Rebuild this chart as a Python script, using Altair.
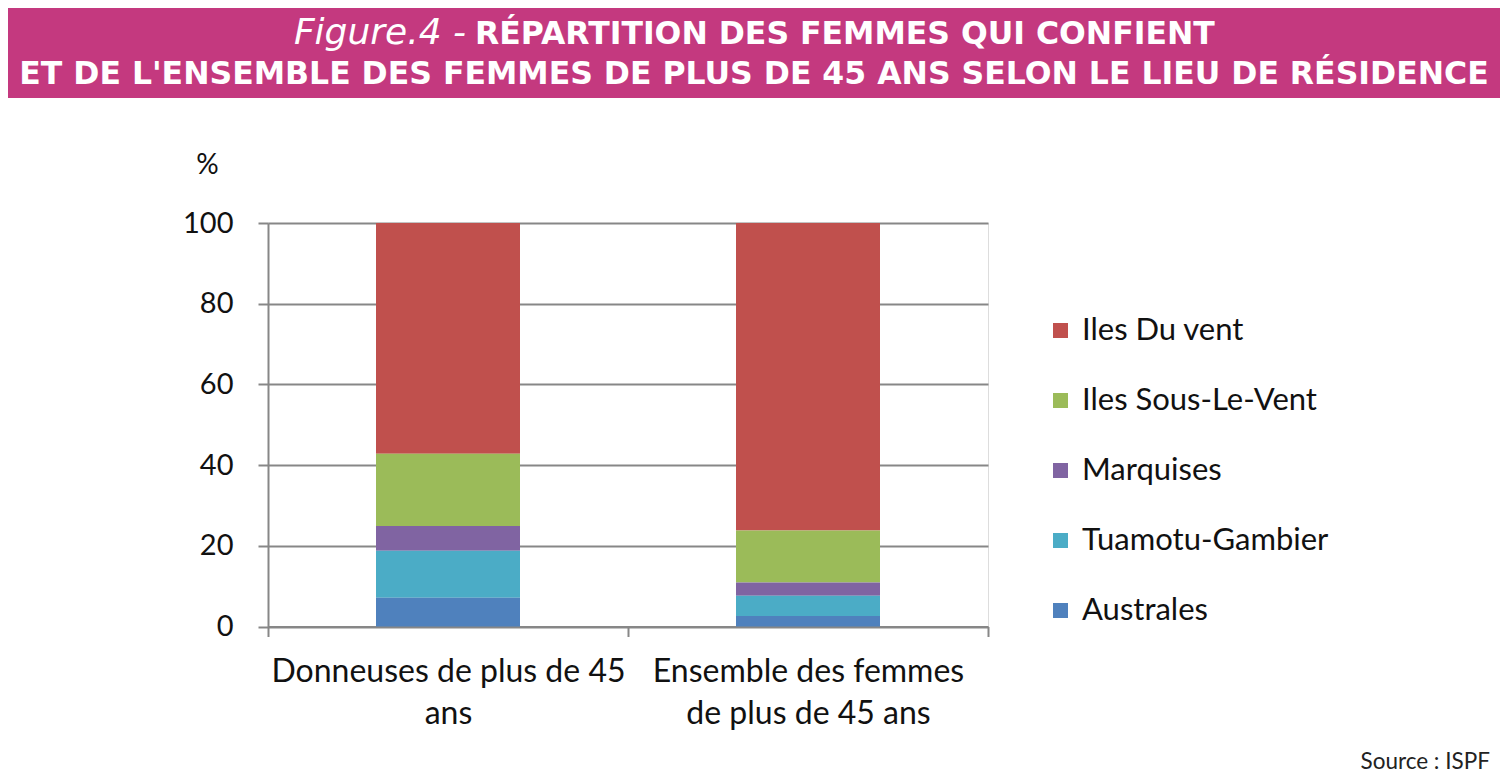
import altair as alt
import pandas as pd

categories = ["Donneuses de plus de 45 ans", "Ensemble des femmes de plus de 45 ans"]
category_lines = {
    "Donneuses de plus de 45 ans": ["Donneuses de plus de 45", "ans"],
    "Ensemble des femmes de plus de 45 ans": ["Ensemble des femmes", "de plus de 45 ans"],
}
regions = ["Iles Du vent", "Iles Sous-Le-Vent", "Marquises", "Tuamotu-Gambier", "Australes"]
colors = ["#C0504D", "#9BBB59", "#8064A2", "#4BACC6", "#4F81BD"]
values_donneuses = [57.2, 17.9, 6.1, 11.7, 7.1]
values_ensemble = [76.2, 12.9, 3.3, 5.0, 2.6]
y_ticks = [0, 20, 40, 60, 80, 100]

title_italic = "Figure.4 -"
title_line1 = "RÉPARTITION DES FEMMES QUI CONFIENT"
title_line2 = "ET DE L'ENSEMBLE DES FEMMES DE PLUS DE 45 ANS SELON LE LIEU DE RÉSIDENCE"
source_text = "Source : ISPF"

rows = []
for cat, vals in zip(categories, [values_donneuses, values_ensemble]):
    for i, (r, v) in enumerate(zip(regions, vals)):
        rows.append({"cat": cat, "region": r, "value": v, "stack": len(regions) - i})
df = pd.DataFrame(rows)

label_expr = " : ".join(
    [f"datum.value == '{k}' ? {v!r}" for k, v in category_lines.items()]
) + " : datum.value"

GRAY = "#878787"
FONT = "Lato"
TXT = "#111111"

W, H = 720, 403.5
PL, PT = 260, 215

bars = alt.Chart(df).mark_bar(size=144).encode(
    x=alt.X("cat:N", sort=categories, title=None,
            scale=alt.Scale(paddingInner=0, paddingOuter=0),
            axis=alt.Axis(labelAngle=0, labelExpr=label_expr, labelFont=FONT,
                          labelFontSize=32, labelColor=TXT, labelLineHeight=42,
                          labelPadding=20, labelLimit=0, tickBand="extent",
                          tickSize=10, tickColor=GRAY, tickWidth=2,
                          domainColor=GRAY, domainWidth=2, grid=False)),
    y=alt.Y("value:Q", stack="zero", scale=alt.Scale(domain=[0, 100], nice=False),
            axis=alt.Axis(values=y_ticks, title="%", titleAngle=0, titleX=-61,
                          titleY=-58, titleFont=FONT, titleFontSize=28,
                          titleFontWeight="normal", titleColor=TXT,
                          titleAlign="center", titleBaseline="middle",
                          labelFont=FONT, labelFontSize=29, labelColor=TXT,
                          labelPadding=25, labelLimit=0, tickSize=10,
                          tickColor=GRAY, tickWidth=2, domainColor=GRAY,
                          domainWidth=2, grid=True, gridColor=GRAY, gridWidth=2)),
    color=alt.Color("region:N", sort=regions,
                    scale=alt.Scale(domain=regions, range=colors),
                    legend=alt.Legend(title=None, orient="none", legendX=777,
                                      legendY=92, symbolType="square",
                                      symbolSize=225, symbolStrokeWidth=0,
                                      labelFont=FONT, labelFontSize=31,
                                      labelColor=TXT, labelOffset=6,
                                      labelLimit=0, rowPadding=38)),
    order=alt.Order("stack:Q", sort="ascending"),
)

banner = alt.Chart(pd.DataFrame({"a": [0]})).mark_rect(color="#C4397F").encode(
    x=alt.value(-PL), x2=alt.value(1492 - PL),
    y=alt.value(-PT), y2=alt.value(90 - PT),
)

t_italic = alt.Chart(pd.DataFrame({"t": [title_italic]})).mark_text(
    font="DejaVu Sans", fontSize=36, fontStyle="italic", color="white",
    align="right", baseline="alphabetic").encode(
    text="t:N", x=alt.value(466 - 8 - PL), y=alt.value(44 - 8 - PT))

t_line1 = alt.Chart(pd.DataFrame({"t": [title_line1]})).mark_text(
    font="DejaVu Sans", fontSize=31.5, fontWeight="bold", color="white",
    align="left", baseline="alphabetic").encode(
    text="t:N", x=alt.value(475 - 8 - PL), y=alt.value(44 - 8 - PT))

t_line2 = alt.Chart(pd.DataFrame({"t": [title_line2]})).mark_text(
    font="DejaVu Sans", fontSize=31.5, fontWeight="bold", color="white",
    align="center", baseline="alphabetic").encode(
    text="t:N", x=alt.value(754 - 8 - PL), y=alt.value(84 - 8 - PT))

src = alt.Chart(pd.DataFrame({"t": [source_text]})).mark_text(
    font=FONT, fontSize=22.5, color="#222222", align="right",
    baseline="middle").encode(
    text="t:N", x=alt.value(1490 - 8 - PL), y=alt.value(762 - 8 - PT))

chart = alt.layer(banner, bars, t_italic, t_line1, t_line2, src).properties(
    width=W, height=H,
    autosize=alt.AutoSizeParams(type="none"),
    padding={"left": PL, "top": PT, "right": 1492 - PL - W, "bottom": 767 - PT - H},
).configure_view(stroke=None).configure(background="white")

chart.save("out.html", embed_options={"renderer": "svg", "actions": False})
